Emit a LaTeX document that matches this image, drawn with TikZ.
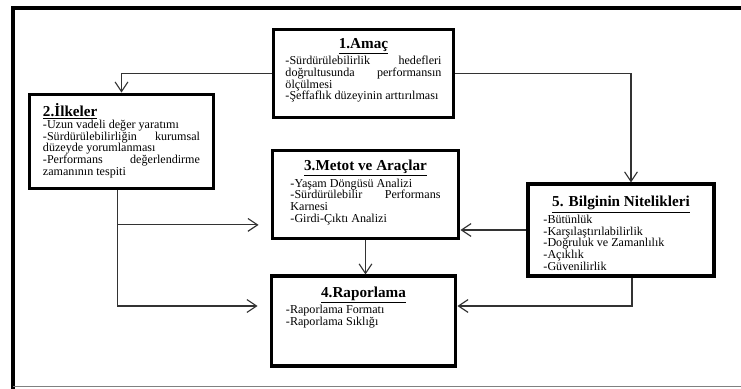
\documentclass[tikz,border=0pt]{standalone}
\usepackage{fontspec}
\setmainfont{Liberation Serif}
\usetikzlibrary{positioning,arrows.meta}
\tikzset{
  flowarrow/.style={-{Straight Barb[length=2.4mm, width=3.2mm]}, line width=0.8pt, black!80},
  stepbox/.style={draw, line width=2.2pt, inner sep=0pt, fill=white},
  frameline/.style={line width=2.3pt}
}
\newcommand{\boxtitle}[2][\centering]{{#1\fontsize{10.8}{12}\selectfont\bfseries\underline{#2}\par}\vspace{0.6pt}}
\newcommand{\boxbody}[3]{\parbox[c][#2][t]{#1}{\fontsize{8.6}{8.3}\selectfont #3}}

\begin{document}
\begin{tikzpicture}[x=0.025cm, y=-0.025cm]
  \useasboundingbox (0,0) rectangle (741,388);
  % outer frame
  \draw[frameline] (750,8) -- (13,8) -- (13,392);
  \draw[gray, line width=0.9pt] (13,386.5) -- (750,386.5);

  \node[stepbox, minimum width=4.52cm, minimum height=2.22cm] (amac) at (363.5,73.5)
    {\boxbody{3.9cm}{1.775cm}{\boxtitle{1.Amaç}-Sürdürülebilirlik\hfill hedefleri\\
     doğrultusunda\hfill performansın\\ ölçülmesi\\ -Şeffaflık düzeyinin arttırılması}};
  \node[stepbox, minimum width=4.62cm, minimum height=2.37cm] (ilke) at (121.5,141.5)
    {\boxbody{3.925cm}{1.925cm}{\boxtitle[\raggedright]{2.İlkeler}-Uzun vadeli değer yaratımı\\
     -Sürdürülebilirliğin\hfill kurumsal\\ düzeyde yorumlanması\\
     -Performans\hfill değerlendirme\\ zamanının tespiti}};
  \node[stepbox, minimum width=4.67cm, minimum height=2.22cm] (metot) at (365.5,194.5)
    {\boxbody{3.75cm}{1.725cm}{\boxtitle{3.Metot ve Araçlar}-Yaşam Döngüsü Analizi\\
     -Sürdürülebilir\hfill Performans\\ Karnesi\\ -Girdi-Çıktı Analizi}};
  \node[stepbox, minimum width=4.62cm, minimum height=2.25cm] (rapor) at (363.5,321)
    {\boxbody{3.875cm}{1.725cm}{\boxtitle{4.Raporlama}-Raporlama Formatı\\ -Raporlama Sıklığı}};
  \node[stepbox, minimum width=4.65cm, minimum height=2.3cm] (bilgi) at (621,230)
    {\boxbody{3.875cm}{1.7cm}{\boxtitle{5. Bilginin Nitelikleri}-Bütünlük\\
     -Karşılaştırılabilirlik\\ -Doğruluk ve Zamanlılık\\ -Açıklık\\ -Güvenilirlik}};

  \coordinate (lrail) at ([xshift=-0.11cm]ilke.south);
  \coordinate (rrail) at ([xshift=0.275cm]bilgi.south);
  \coordinate (metin) at ([yshift=-0.76cm]metot.west);
  \coordinate (rapin) at ([yshift=0.375cm]rapor.west);
  \coordinate (rapout) at ([yshift=0.375cm]rapor.east);

  \draw[flowarrow] (amac.west) -| (ilke.north);
  \draw[flowarrow] (amac.east) -| ([xshift=0.25cm]bilgi.north);
  \draw[flowarrow, shorten >=0.3cm] (lrail) |- (rapin);
  \draw[flowarrow, shorten >=0.3cm] (lrail |- metin) -- (metin);
  \draw[flowarrow] (metot.south) -- (metot.south |- rapor.north);
  \draw[flowarrow] (bilgi.west) -- (bilgi.west -| metot.east);
  \draw[flowarrow] (rrail) |- (rapout);
\end{tikzpicture}
\end{document}
